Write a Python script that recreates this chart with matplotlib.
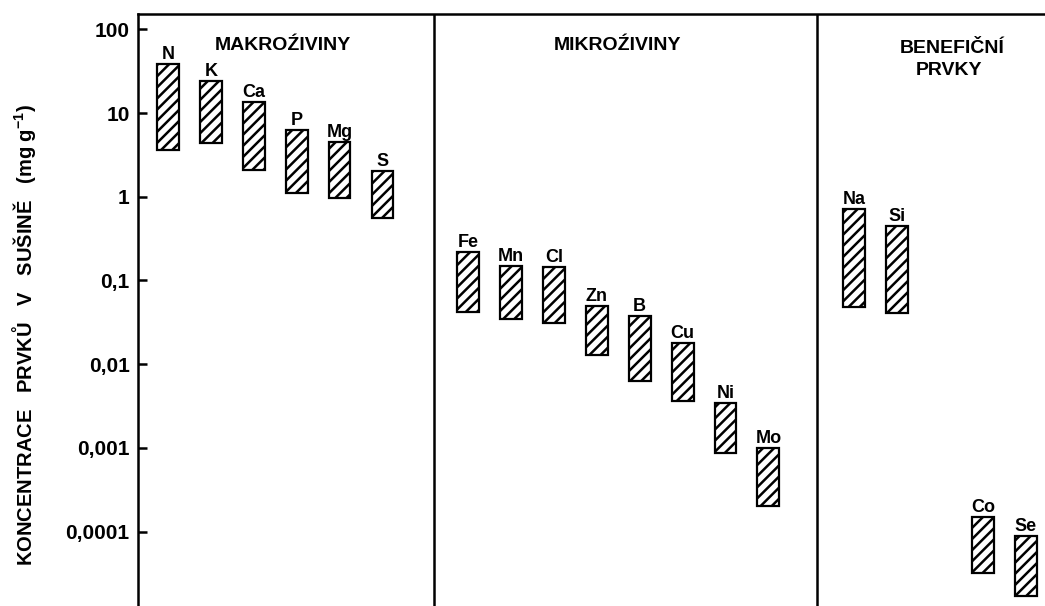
import matplotlib
matplotlib.use("Agg")
import matplotlib.pyplot as plt

# Element concentration ranges in plant dry matter (mg per g)
elements = ["N", "K", "Ca", "P", "Mg", "S",
            "Fe", "Mn", "Cl", "Zn", "B", "Cu", "Ni", "Mo",
            "Na", "Si",
            "Co", "Se"]
low = [3.6, 4.4, 2.08, 1.11, 0.96, 0.56,
       0.042, 0.0346, 0.031, 0.0129, 0.0063, 0.0036, 0.00087, 0.000202,
       0.048, 0.0408,
       0.0000319, 0.0000169]
high = [38.5, 24.1, 13.5, 6.27, 4.5, 2.05,
        0.218, 0.149, 0.145, 0.0494, 0.0375, 0.0179, 0.00344, 0.000995,
        0.713, 0.447,
        0.000149, 0.0000883]

# Horizontal slot of each element (gaps separate the groups)
slots = [0, 1, 2, 3, 4, 5,
         7, 8, 9, 10, 11, 12, 13, 14,
         16, 17,
         19, 20]

tick_values = [100, 10, 1, 0.1, 0.01, 0.001, 0.0001]
tick_labels = ["100", "10", "1", "0,1", "0,01", "0,001", "0,0001"]

group_titles = ["MAKROŹIVINY", "MIKROŹIVINY", "BENEFIČNÍ", "PRVKY"]
group_title_x = [2.68, 10.47, 18.29, 18.22]
group_title_y = [57, 57, 52, 28.4]
dividers = [6.2, 15.14]

plt.rcParams["font.family"] = ["Liberation Sans", "DejaVu Sans"]
plt.rcParams["font.weight"] = "bold"
plt.rcParams["hatch.linewidth"] = 1.8
plt.rcParams["mathtext.fontset"] = "custom"
plt.rcParams["mathtext.rm"] = "Liberation Sans:bold"
plt.rcParams["mathtext.default"] = "rm"

W, H = 1045, 606
fig = plt.figure(figsize=(W / 100, H / 100), dpi=100)
ax = fig.add_axes([138 / W, 0, 1 - 138 / W, (H - 14) / H])

ax.set_yscale("log")
ax.set_ylim(10 ** -4.89, 10 ** 2.183)
ax.set_xlim(-0.70, 20.45)

heights = [h - l for l, h in zip(low, high)]
ax.bar(slots, heights, bottom=low, width=0.51, facecolor="white",
       edgecolor="black", linewidth=1.6, hatch="///", zorder=3)

for x, top, name in zip(slots, high, elements):
    ax.annotate(name, (x, top), xytext=(0, 3.5), textcoords="offset points",
                ha="center", va="baseline", fontsize=13, fontweight="bold")

for x in dividers:
    ax.axvline(x, color="black", linewidth=1.8)

for text, x, y in zip(group_titles, group_title_x, group_title_y):
    ax.text(x, y, text, ha="center", va="baseline", fontsize=14,
            fontweight="bold")

for side in ("right", "bottom"):
    ax.spines[side].set_visible(False)
for side in ("left", "top"):
    ax.spines[side].set_linewidth(1.8)

ax.set_yticks(tick_values)
ax.set_yticklabels(tick_labels, fontsize=15, fontweight="bold")
ax.minorticks_off()
ax.tick_params(axis="y", direction="in", length=6.5, width=1.8, pad=6)
ax.set_xticks([])

fig.text(24 / W, 1 - 335 / H,
         "KONCENTRACE   PRVKŮ   V   SUŠINĚ   (mg g$^{-1}$)",
         rotation=90, ha="center", va="center", fontsize=14.5,
         fontweight="bold")

fig.savefig("out.png", dpi=100)
